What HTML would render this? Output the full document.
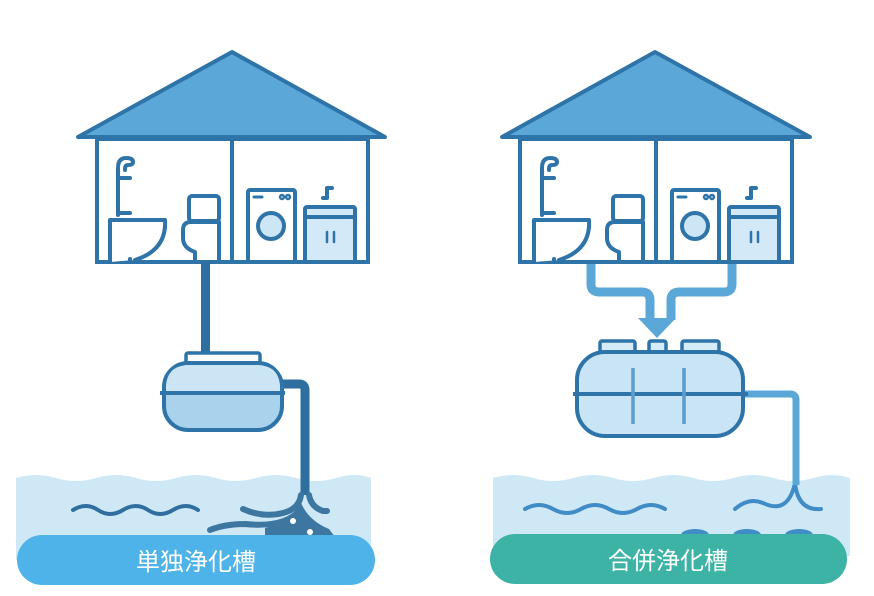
<!DOCTYPE html>
<html><head><meta charset="utf-8"><style>
html,body{margin:0;padding:0;background:#fff;width:874px;height:596px;overflow:hidden}
svg{display:block}
text{font-family:"Liberation Sans","Noto Sans CJK JP",sans-serif}
</style></head><body>
<svg width="874" height="596" viewBox="0 0 874 596" xmlns="http://www.w3.org/2000/svg">
<defs>
<g id="app" fill="none" stroke="#2f74a8" stroke-width="4" stroke-linecap="round" stroke-linejoin="round">
  <path d="M118 215 V168 q0 -10 8 -10 q7 0 7 4 q0 3 -5 3 q-3 0 -3 4 V170" />
  <path d="M118 178 h12 M118 213 h12"/>
  <path d="M110 262 V220 h55 q2 30 -30 40 M130 262 v-3" fill="#fff"/>
  <rect x="189" y="196" width="30" height="25" rx="3" fill="#fff"/>
  <path d="M183 230 q0 -8 8 -8 h28 v40 h-24 v-10 q-12 -4 -12 -14 z" fill="#fff"/>
  <rect x="248" y="190" width="47" height="72" rx="2" fill="#fff"/>
  <path d="M254 197 h8" stroke-width="3"/>
  <circle cx="282" cy="197" r="1.2"/><circle cx="288" cy="197" r="1.2"/>
  <circle cx="271" cy="226" r="13" fill="#cde6f5"/>
  <path d="M327 198 v-10 h5 M327 198 h-4"/>
  <rect x="305" y="207" width="50" height="55" rx="2" fill="#d4e9f7"/>
  <path d="M305 217 h50"/>
  <path d="M327 232 v10 M334 232 v10" stroke-width="2.5"/>
</g>
</defs>

<polygon points="232,52 78,137 385,137" fill="#5ba7d7" stroke="#2f74a8" stroke-width="4" stroke-linejoin="round"/>
<rect x="97" y="139" width="271" height="123" fill="#fff" stroke="#2f74a8" stroke-width="4"/>
<line x1="232" y1="139" x2="232" y2="262" stroke="#2f74a8" stroke-width="4"/>
<use href="#app"/>
<rect x="201" y="262" width="9" height="92" fill="#2f6fa0"/>

<path d="M16 478 q20 -6 40 0 t40 0 t40 0 t40 0 t40 0 t40 0 t40 0 t40 0 t35 0 V560 H16 Z" fill="#cfe8f5"/>
<path d="M73 510 q13 -8 25 0 t25 0 t25 0 t25 0 t25 0" fill="none" stroke="#2f6fa0" stroke-width="4" stroke-linecap="round"/>
<path d="M282 384 h17 q6 0 6 6 V495" fill="none" stroke="#2f6fa0" stroke-width="9"/>
<path d="M301 495 q-2 14 -18 18 q-20 5 -40 -4 M309 495 q2 12 14 16 h4 M300 510 q-15 18 -55 14 q-20 0 -35 6" fill="none" stroke="#3d76a0" stroke-width="6" stroke-linecap="round"/>
<path d="M265 528 q25 -5 36 -25 q8 18 28 26 l6 8 h-70 z" fill="#3d76a0"/>
<circle cx="293" cy="521" r="3" fill="#fff"/><circle cx="310" cy="532" r="3" fill="#fff"/>

<rect x="186" y="353" width="74" height="10" rx="2" fill="#fff" stroke="#2f74a8" stroke-width="3.5"/>
<rect x="164" y="363" width="118" height="67" rx="24" fill="#a9d3ec" stroke="#2f74a8" stroke-width="4"/>
<path d="M166 393 V388 q0 -23 24 -23 h66 q24 0 24 23 V393 Z" fill="#cbe5f5"/>
<line x1="160" y1="393" x2="285" y2="393" stroke="#2f74a8" stroke-width="4"/>

<rect x="17" y="535" width="358" height="50" rx="25" fill="#4db3e8"/>
<text x="196" y="570" font-size="24" fill="#fff" text-anchor="middle">単独浄化槽</text>

<polygon points="655,52 502,137 810,137" fill="#5ba7d7" stroke="#2f74a8" stroke-width="4" stroke-linejoin="round"/>
<rect x="520" y="139" width="272" height="123" fill="#fff" stroke="#2f74a8" stroke-width="4"/>
<line x1="656" y1="139" x2="656" y2="262" stroke="#2f74a8" stroke-width="4"/>
<use href="#app" transform="translate(424,0)"/>
<path d="M591 264 V284 q0 8 8 8 h43 q8 0 8 8 v20 M732 264 V284 q0 8 -8 8 h-45 q-8 0 -8 8 v20" fill="none" stroke="#5ba8d8" stroke-width="9"/>
<polygon points="638,318 676,318 657,338" fill="#5ba8d8"/>

<path d="M493 478 q20 -6 40 0 t40 0 t40 0 t40 0 t40 0 t40 0 t40 0 t40 0 t37 0 V556 H493 Z" fill="#cfe8f5"/>
<path d="M525 509 q14 -8 28 0 t28 0 t28 0 t28 0 t28 0" fill="none" stroke="#3f8cc6" stroke-width="4" stroke-linecap="round"/>
<path d="M735 509 q14 -12 28 -6 q25 12 32 -20 q3 28 26 26" fill="none" stroke="#3f8cc6" stroke-width="4" stroke-linecap="round"/>
<ellipse cx="695" cy="535" rx="14" ry="6" fill="#3f8cc6"/>
<ellipse cx="747" cy="535" rx="14" ry="6" fill="#3f8cc6"/>
<ellipse cx="799" cy="535" rx="14" ry="6" fill="#3f8cc6"/>
<path d="M743 394 h47 q6 0 6 6 V485" fill="none" stroke="#5ba8d8" stroke-width="7"/>

<g stroke="#2f74a8" stroke-width="3.5" fill="#d6ebf8">
<rect x="600" y="341" width="35" height="12" rx="2"/>
<rect x="649" y="341" width="17" height="12" rx="2"/>
<rect x="682" y="341" width="37" height="12" rx="2"/>
</g>
<rect x="577" y="352" width="166" height="84" rx="28" fill="#c9e4f5" stroke="#2f74a8" stroke-width="4"/>
<line x1="573" y1="394" x2="748" y2="394" stroke="#2f74a8" stroke-width="4"/>
<line x1="633" y1="368" x2="633" y2="424" stroke="#5a9ccc" stroke-width="3.5"/>
<line x1="684" y1="368" x2="684" y2="424" stroke="#5a9ccc" stroke-width="3.5"/>

<rect x="490" y="534" width="357" height="50" rx="25" fill="#3db3a6"/>
<text x="668" y="569" font-size="24" fill="#fff" text-anchor="middle">合併浄化槽</text>
</svg>
</body></html>
